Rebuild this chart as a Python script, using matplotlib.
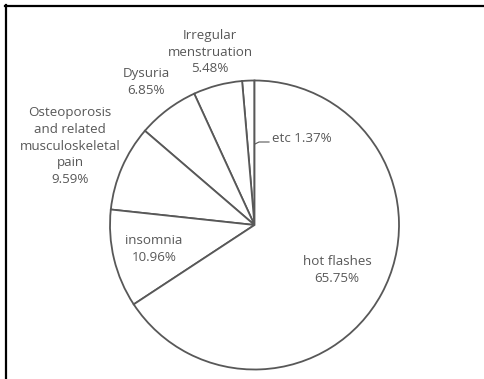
import matplotlib
matplotlib.use('Agg')
import matplotlib.pyplot as plt
from matplotlib.lines import Line2D

# --- datos ---
categorias = ['etc', 'Irregular\nmenstruation', 'Dysuria',
              'Osteoporosis\nand related\nmusculoskeletal\npain',
              'insomnia', 'hot flashes']
valores = [1.37, 5.48, 6.85, 9.59, 10.96, 65.75]

# posiciones de etiquetas (pixeles de la imagen)
pos_etiquetas = [(302, 138), (210, 52), (146, 82), (70, 146), (154, 249), (337, 270)]

W, H = 484, 379
GRIS = '#585858'
FUENTE = 'Open Sans'

fig = plt.figure(figsize=(W / 100, H / 100), dpi=100)
ax = fig.add_axes([0, 0, 1, 1])

ax.pie(valores, startangle=90, counterclock=True,
       center=(254.5, H - 225), radius=144.5, frame=True,
       colors=['white'] * len(valores),
       wedgeprops=dict(edgecolor=GRIS, linewidth=1.3))

ax.set_xlim(0, W)
ax.set_ylim(0, H)
ax.axis('off')

for cat, val, (px, py) in zip(categorias, valores, pos_etiquetas):
    if cat == 'etc':
        ax.text(px, H - py, f'{cat} {val:.2f}%', ha='center', va='center',
                fontsize=9.6, color=GRIS, family=FUENTE)
        continue
    ax.text(px, H - py, f'{cat}\n{val:.2f}%', ha='center', va='center',
            fontsize=9.6, color=GRIS, family=FUENTE, linespacing=1.36)

# linea guia de "etc"
ax.plot([255, 259, 269], [H - 144, H - 142, H - 142], color=GRIS, linewidth=0.8)

# marco (solo izquierda y arriba)
fig.add_artist(Line2D([6 / W, 6 / W], [0, 1 - 5 / H], color='black', linewidth=1.6,
                      transform=fig.transFigure))
fig.add_artist(Line2D([5 / W, 1], [1 - 6 / H, 1 - 6 / H], color='black', linewidth=1.6,
                      transform=fig.transFigure))

plt.savefig('out.png', dpi=100, facecolor='white')
plt.close()
